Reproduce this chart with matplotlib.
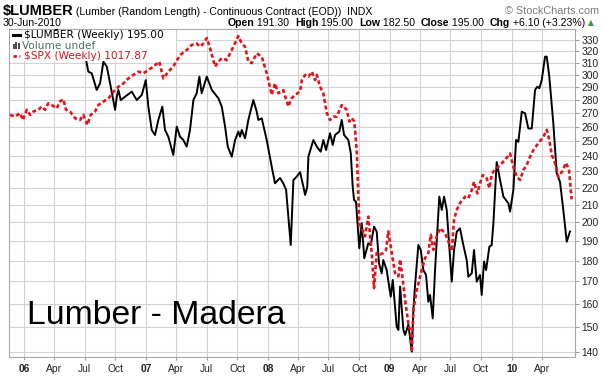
import matplotlib
matplotlib.use("Agg")
import matplotlib.pyplot as plt
from matplotlib.patches import Rectangle
from matplotlib.lines import Line2D
from matplotlib.ticker import NullLocator, FixedLocator, FixedFormatter

# ---------------- data (decimal years) -------------
lumber_t = [2005.880, 2005.960, 2006.040, 2006.120, 2006.200, 2006.280, 2006.360, 2006.440,
            2006.507, 2006.525, 2006.553, 2006.594, 2006.622, 2006.649, 2006.677, 2006.704,
            2006.745, 2006.759, 2006.772, 2006.791, 2006.827, 2006.882, 2006.923, 2006.964,
            2006.997, 2007.018, 2007.046, 2007.073, 2007.100, 2007.133, 2007.155, 2007.182,
            2007.223, 2007.251, 2007.278, 2007.305, 2007.333, 2007.360, 2007.388, 2007.415,
            2007.437, 2007.456, 2007.498, 2007.539, 2007.593, 2007.621, 2007.648, 2007.670,
            2007.703, 2007.730, 2007.757, 2007.771, 2007.785, 2007.812, 2007.839, 2007.880,
            2007.908, 2007.921, 2007.949, 2007.990, 2008.031, 2008.058, 2008.099, 2008.126,
            2008.149, 2008.187, 2008.209, 2008.236, 2008.264, 2008.291, 2008.305, 2008.323,
            2008.332, 2008.373, 2008.401, 2008.433, 2008.455, 2008.477, 2008.510, 2008.532,
            2008.551, 2008.586, 2008.606, 2008.625, 2008.660, 2008.680, 2008.696, 2008.707,
            2008.723, 2008.750, 2008.770, 2008.791, 2008.824, 2008.844, 2008.871, 2008.893,
            2008.912, 2008.934, 2008.947, 2008.975, 2009.008, 2009.025, 2009.057, 2009.071,
            2009.085, 2009.112, 2009.126, 2009.153, 2009.181, 2009.194, 2009.208, 2009.235,
            2009.255, 2009.276, 2009.298, 2009.317, 2009.331, 2009.353, 2009.372, 2009.407,
            2009.427, 2009.446, 2009.468, 2009.489, 2009.509, 2009.528, 2009.550, 2009.577,
            2009.604, 2009.632, 2009.645, 2009.673, 2009.692, 2009.714, 2009.741, 2009.755,
            2009.774, 2009.791, 2009.818, 2009.837, 2009.851, 2009.878, 2009.906, 2009.933,
            2009.974, 2009.988, 2010.015, 2010.037, 2010.056, 2010.084, 2010.111, 2010.138,
            2010.166, 2010.193, 2010.212, 2010.228, 2010.248, 2010.275, 2010.289, 2010.310,
            2010.343, 2010.371, 2010.398, 2010.425, 2010.453, 2010.480]
lumber_v = [345, 352, 362, 355, 346, 338, 332, 324,
            312.3, 302.5, 301.2, 287.7, 293.0, 310.9, 306.7, 293.0,
            272.3, 282.4, 287.7, 279.8, 282.4, 286.3, 279.8, 283.7,
            295.6, 274.8, 257.7, 254.2, 264.9, 274.8, 257.7, 253.0,
            240.6, 260.1, 253.0, 250.7, 246.2, 257.7, 279.8, 285.1,
            298.4, 285.1, 298.4, 287.7, 281.2, 274.8, 260.1, 246.2,
            239.5, 250.7, 256.6, 253.0, 257.7, 251.9, 264.9, 279.8,
            271.0, 264.9, 266.1, 250.7, 233.0, 222.6, 225.9, 222.6,
            218.6, 187.9, 224.6, 226.7, 229.5, 220.5, 215.6, 220.5,
            239.5, 250.7, 246.2, 242.8, 250.7, 243.9, 255.4, 247.3,
            254.2, 256.6, 264.9, 254.2, 250.7, 241.8, 220.5, 212.6,
            211.6, 186.2, 199.5, 181.2, 188.8, 187.9, 197.6, 194.9,
            178.7, 173.8, 180.3, 175.4, 163.0, 170.7, 150.1, 148.8,
            167.6, 148.8, 146.8, 151.0, 140.2, 157.2, 168.4, 187.9,
            185.3, 175.4, 173.0, 160.8, 163.8, 153.6, 175.4, 214.6,
            206.9, 214.6, 206.9, 187.0, 169.9, 185.3, 194.9, 196.7,
            187.9, 180.3, 172.2, 173.8, 185.3, 169.9, 173.0, 163.8,
            179.5, 175.4, 187.0, 187.9, 199.5, 236.0, 224.6, 214.6,
            210.7, 205.9, 218.6, 250.7, 249.5, 271.0, 269.8, 258.8,
            258.8, 287.7, 290.3, 289.0, 295.6, 315.2, 315.2, 298.4,
            262.5, 228.8, 223.4, 206.9, 189.6, 195.0]

spx_t = [2005.883, 2005.924, 2005.965, 2005.987, 2006.020, 2006.047, 2006.074, 2006.115,
         2006.143, 2006.170, 2006.197, 2006.225, 2006.266, 2006.293, 2006.320, 2006.342,
         2006.375, 2006.416, 2006.457, 2006.484, 2006.517, 2006.545, 2006.580, 2006.608,
         2006.649, 2006.690, 2006.731, 2006.772, 2006.813, 2006.854, 2006.895, 2006.936,
         2006.977, 2007.018, 2007.059, 2007.108, 2007.141, 2007.182, 2007.223, 2007.278,
         2007.333, 2007.374, 2007.415, 2007.443, 2007.470, 2007.498, 2007.525, 2007.566,
         2007.593, 2007.621, 2007.662, 2007.689, 2007.716, 2007.757, 2007.785, 2007.812,
         2007.839, 2007.867, 2007.908, 2007.949, 2007.990, 2008.031, 2008.058, 2008.085,
         2008.126, 2008.167, 2008.195, 2008.222, 2008.264, 2008.278, 2008.305, 2008.332,
         2008.360, 2008.387, 2008.401, 2008.428, 2008.455, 2008.483, 2008.510, 2008.537,
         2008.565, 2008.606, 2008.647, 2008.668, 2008.688, 2008.709, 2008.729, 2008.750,
         2008.770, 2008.797, 2008.824, 2008.852, 2008.871, 2008.893, 2008.920, 2008.947,
         2008.970, 2008.988, 2009.016, 2009.044, 2009.071, 2009.085, 2009.107, 2009.126,
         2009.153, 2009.172, 2009.181, 2009.194, 2009.222, 2009.263, 2009.290, 2009.317,
         2009.337, 2009.358, 2009.386, 2009.413, 2009.454, 2009.481, 2009.509, 2009.528,
         2009.550, 2009.577, 2009.618, 2009.645, 2009.673, 2009.692, 2009.719, 2009.741,
         2009.764, 2009.796, 2009.818, 2009.837, 2009.851, 2009.906, 2009.947, 2009.988,
         2010.015, 2010.043, 2010.070, 2010.097, 2010.125, 2010.152, 2010.179, 2010.220,
         2010.261, 2010.289, 2010.310, 2010.330, 2010.349, 2010.371, 2010.384, 2010.415,
         2010.447, 2010.472, 2010.493]
spx_v = [1270, 1264, 1276, 1253, 1287, 1270, 1281, 1287,
         1298, 1287, 1309, 1303, 1292, 1315, 1323, 1287,
         1281, 1259, 1253, 1270, 1237, 1270, 1281, 1303,
         1315, 1326, 1349, 1367, 1379, 1397, 1410, 1422,
         1416, 1428, 1441, 1460, 1397, 1422, 1441, 1485,
         1505, 1525, 1531, 1518, 1531, 1553, 1512, 1441,
         1460, 1473, 1466, 1492, 1518, 1561, 1531, 1518,
         1460, 1454, 1492, 1479, 1416, 1338, 1379, 1344,
         1355, 1298, 1326, 1338, 1350, 1391, 1410, 1403,
         1422, 1391, 1410, 1367, 1344, 1276, 1253, 1264,
         1264, 1303, 1287, 1248, 1259, 1248, 1158, 956,
         944, 924, 973, 885, 807, 885, 881, 885,
         892, 936, 885, 839, 832, 870, 824, 782,
         736, 717, 683, 762, 803, 846, 873, 885,
         928, 892, 924, 944, 932, 912, 889, 965,
         990, 1008, 1025, 1021, 1043, 1066, 1034, 1062,
         1085, 1076, 1048, 1085, 1095, 1114, 1129, 1148,
         1109, 1080, 1071, 1099, 1114, 1138, 1158, 1179,
         1199, 1221, 1189, 1143, 1129, 1099, 1080, 1095,
         1120, 1099, 1017.87]

y_ticks = [140, 150, 160, 170, 180, 190, 200, 210, 220, 230, 240, 250, 260, 270, 280,
           290, 300, 310, 320, 330]
x_ticks = [2006.000, 2006.247, 2006.496, 2006.748, 2007.000, 2007.247, 2007.496, 2007.748,
           2008.000, 2008.247, 2008.496, 2008.748, 2009.000, 2009.247, 2009.496, 2009.748,
           2010.000, 2010.247]
x_labels = ['06', 'Apr', 'Jul', 'Oct', '07', 'Apr', 'Jul', 'Oct', '08', 'Apr', 'Jul', 'Oct',
            '09', 'Apr', 'Jul', 'Oct', '10', 'Apr']

# ---------------- figure -------------------------------------------------------
W, H = 605, 376
fig = plt.figure(figsize=(W / 100, H / 100), dpi=100)
fig.patch.set_facecolor('white')


def fx(x):
    return x / W


def fy(y):
    return 1 - y / H


L, R, T, B = 9, 575, 29, 356.7
ax = fig.add_axes([fx(L), fy(B), (R - L) / W, (B - T) / H])
ax2 = ax.twinx()

ax.set_yscale('log')
ax.set_ylim(138.25, 340.1)
ax.set_xlim(2005.874, 2010.521)

ax.yaxis.tick_right()
ax.yaxis.set_label_position('right')
ax.yaxis.set_major_locator(FixedLocator(y_ticks))
ax.yaxis.set_major_formatter(FixedFormatter([str(v) for v in y_ticks]))
ax.yaxis.set_minor_locator(NullLocator())
ax.xaxis.set_major_locator(FixedLocator(x_ticks))
ax.xaxis.set_major_formatter(FixedFormatter(x_labels))
ax.xaxis.set_minor_locator(NullLocator())

gc = '#d2d2d2'
ax.grid(True, which='major', color=gc, lw=0.8)
ax.set_axisbelow(True)
for s in ax.spines.values():
    s.set_color('#a8a8a8')
    s.set_linewidth(0.8)
ax.tick_params(axis='y', which='major', direction='out', length=3, width=0.8,
               color='#a0a0a0', labelsize=7.4, pad=1.5, labelcolor='#222222',
               left=False, labelleft=False, right=True, labelright=True)
ax.tick_params(axis='x', which='major', direction='out', length=2, width=0.8,
               color='#a0a0a0', labelsize=7.4, pad=3, labelcolor='#222222')
for lab in ax.get_yticklabels() + ax.get_xticklabels():
    lab.set_family('Liberation Sans')
for lab in ax.get_xticklabels():
    if lab.get_text().isdigit():
        lab.set_fontweight('bold')

ax.plot(lumber_t, lumber_v, color='black', lw=1.4, zorder=3, solid_joinstyle='round')

ax2.set_yscale('log')
ax2.set_ylim(674.3, 1590)
ax2.axis('off')
ax2.plot(spx_t, spx_v, color='#e3131b', lw=1.9, dashes=(1.5, 1.0), zorder=4)

# ---------------- legend box ---------------------------------------------------
fig.add_artist(Rectangle((fx(L + 1), fy(61)), (176 - L - 1) / W, (61 - T - 1) / H,
                         transform=fig.transFigure, facecolor='white',
                         edgecolor='none', zorder=5))
lf = dict(family='DejaVu Sans', fontsize=7.6, va='center', zorder=6)
fig.add_artist(Line2D([fx(12.5), fx(20)], [fy(35), fy(35)], color='black', lw=2.2,
                      transform=fig.transFigure, zorder=6))
fig.text(fx(24), fy(35.3), '$LUMBER (Weekly) 195.00', color='black', **lf)
for bx, bh in [(12.5, 4.5), (15.0, 6.5), (17.5, 5.5)]:
    fig.add_artist(Rectangle((fx(bx), fy(48.5)), 2.0 / W, bh / H, transform=fig.transFigure,
                             facecolor='#505050', edgecolor='none', zorder=6))
fig.text(fx(22.5), fy(45.8), 'Volume undef', color='#4f6e60', **lf)
fig.add_artist(Line2D([fx(12.5), fx(20.5)], [fy(55.8), fy(55.8)], color='#e3131b', lw=2.0,
                      dashes=(1.2, 1.0), transform=fig.transFigure, zorder=6))
fig.text(fx(24), fy(56), '$SPX (Weekly) 1017.87', color='#d01418', **lf)

# ---------------- big caption ----------------------------------------------------
fig.text(fx(27), fy(324.5), 'Lumber - Madera', family='Liberation Sans', fontsize=24.3,
         color='black', va='baseline', ha='left', zorder=6)

# ---------------- header ---------------------------------------------------------
renderer = fig.canvas.get_renderer()


def row(x, y, pieces, align='left'):
    arts = []
    widths = []
    for txt, props in pieces:
        t = fig.text(0, fy(y), txt, va='baseline', **props)
        bb = t.get_window_extent(renderer=renderer)
        arts.append(t)
        widths.append(bb.width)
    total = sum(widths)
    cur = x if align == 'left' else x - total
    for t, w in zip(arts, widths):
        t.set_x(fx(cur))
        cur += w


hb = dict(family='Liberation Sans', fontsize=7.6, color='black')
hbb = dict(family='Liberation Sans', fontsize=7.6, color='black', fontweight='bold')
row(2.5, 15, [('$LUMBER', dict(family='Liberation Sans', fontsize=10.5, fontweight='bold',
                                color='black')),
              (' (Lumber (Random Length) - Continuous Contract (EOD))  INDX', hb)])
fig.text(fx(599), fy(14), '\u00a9 StockCharts.com', family='Liberation Sans', fontsize=7.8,
         color='#7a7a7a', ha='right', va='baseline')
fig.text(fx(2.5), fy(25.5), '30-Jun-2010', va='baseline', **hb)
row(594, 25.5, [('Open', hbb), (' 191.30  ', hb), ('High', hbb), (' 195.00  ', hb),
                ('Low', hbb), (' 182.50  ', hb), ('Close', hbb), (' 195.00  ', hb),
                ('Chg', hbb), (' +6.10 (+3.23%) ', hb),
                ('\u25b2', dict(family='DejaVu Sans', fontsize=5.5, color='#2f9e3a'))],
    align='right')

fig.savefig('out.png', dpi=100, facecolor='white')
